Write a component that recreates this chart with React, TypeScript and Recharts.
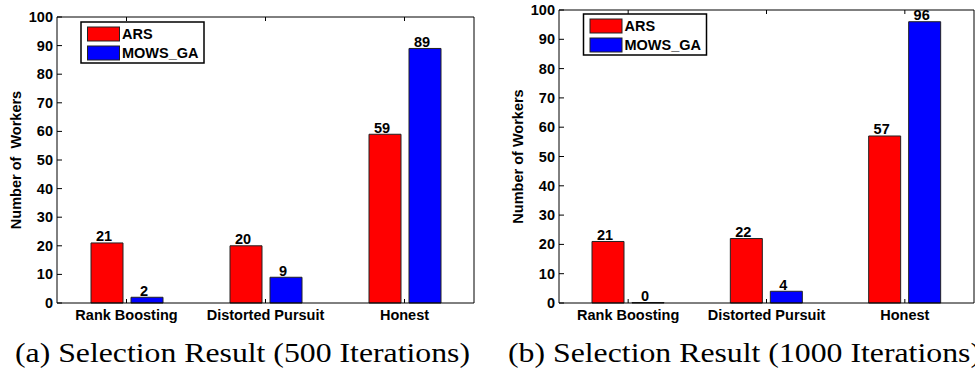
import React from 'react'
import { BarChart, Bar, XAxis, YAxis, LabelList } from 'recharts'

const categories = ['Rank Boosting', 'Distorted Pursuit', 'Honest']
const seriesNames = ['ARS', 'MOWS_GA']
const ars500 = [21, 20, 59]
const mows500 = [2, 9, 89]
const ars1000 = [21, 22, 57]
const mows1000 = [0, 4, 96]
const yTicks = [0, 10, 20, 30, 40, 50, 60, 70, 80, 90, 100]
const yLabels = ['Number of  Workers', 'Number of Workers']
const captions = ['(a) Selection Result (500 Iterations)', '(b) Selection Result (1000 Iterations)']

const FS = 14.5
const RED = '#ff0000'
const BLUE = '#0000ff'
const bold: React.CSSProperties = { fontFamily: 'Liberation Sans', fontWeight: 700, fontSize: FS }
const serif: React.CSSProperties = { fontFamily: 'Liberation Serif', fontWeight: 400, fontSize: 28 }

const data500 = categories.map((name, i) => ({ name, ars: ars500[i], mows: mows500[i] }))
const data1000 = categories.map((name, i) => ({ name, ars: ars1000[i], mows: mows1000[i] }))

// tick renderers: matlab style, ticks pointing into the plot box
const LeftTick = (p: any) => (
  <g>
    <text x={p.x} y={p.y} textAnchor="end" dominantBaseline="central" style={bold} fill="#000">
      {p.payload.value}
    </text>
    <line x1={p.x + 4} x2={p.x + 9} y1={p.y} y2={p.y} stroke="#000" />
  </g>
)
const RightTick = (p: any) => <line x1={p.x - 5} x2={p.x} y1={p.y} y2={p.y} stroke="#000" />
const BottomTick = (p: any) => (
  <g>
    <line x1={p.x} x2={p.x} y1={p.y - 4} y2={p.y} stroke="#000" />
    <text x={p.x} y={p.y + 17} textAnchor="middle" style={bold} fill="#000">
      {p.payload.value}
    </text>
  </g>
)
const TopTick = (p: any) => <line x1={p.x} x2={p.x} y1={p.y} y2={p.y + 4} stroke="#000" />

const valueLabel = (p: any) => (
  <text x={Number(p.x) + Number(p.width) / 2 - 3} y={Number(p.y) - 1.5} textAnchor="middle" style={bold} fill="#000">
    {p.value}
  </text>
)

// zero-height bars are skipped by recharts, keep them tiny so their label still shows
const keepZero = (v: any) => (Number(v) === 0 ? 0.5 : 0)

function Panel({ data, width, top, left, right }: { data: any[]; width: number; top: number; left: number; right: number }) {
  return (
    <BarChart width={width} height={330} data={data} margin={{ top: top - 1, right: right - 1, bottom: 7, left: left - 40 }} barGap={8}>
      <XAxis dataKey="name" interval={0} tickSize={0} tickMargin={0} axisLine={{ stroke: '#000' }} tickLine={false} tick={BottomTick} height={20} />
      <XAxis xAxisId="t" orientation="top" dataKey="name" interval={0} tickSize={0} tickMargin={0} axisLine={{ stroke: '#000' }} tickLine={false} tick={TopTick} height={1} />
      <YAxis domain={[0, 100]} ticks={yTicks} interval={0} tickSize={0} tickMargin={4} axisLine={{ stroke: '#000' }} tickLine={false} tick={LeftTick} width={40} />
      <YAxis yAxisId="r" orientation="right" domain={[0, 100]} ticks={yTicks} interval={0} tickSize={0} tickMargin={0} axisLine={{ stroke: '#000' }} tickLine={false} tick={RightTick} width={1} />
      <Bar dataKey="ars" name={seriesNames[0]} fill={RED} stroke="#222" strokeWidth={1} barSize={32} minPointSize={keepZero} isAnimationActive={false}>
        <LabelList dataKey="ars" content={valueLabel} />
      </Bar>
      <Bar dataKey="mows" name={seriesNames[1]} fill={BLUE} stroke="#222" strokeWidth={1} barSize={32} minPointSize={keepZero} isAnimationActive={false}>
        <LabelList dataKey="mows" content={valueLabel} />
      </Bar>
    </BarChart>
  )
}

function LegendBox({ x, y }: { x: number; y: number }) {
  return (
    <g>
      <rect x={x} y={y} width={123} height={41} fill="#fff" stroke="#000" strokeWidth={1.5} />
      {seriesNames.map((s, i) => (
        <g key={s}>
          <rect x={x + 6.5} y={y + 5 + i * 19} width={32} height={14} fill={i === 0 ? RED : BLUE} stroke="#222" />
          <text x={x + 41} y={y + 12 + i * 19} dominantBaseline="central" style={bold} fill="#000">
            {s}
          </text>
        </g>
      ))}
    </g>
  )
}

export default function App() {
  return (
    <div style={{ position: 'absolute', left: 0, top: 0, width: 975, height: 372, overflow: 'hidden', background: '#fff' }}>
      <div style={{ position: 'absolute', left: 0, top: 0 }}>
        <Panel data={data500} width={487} top={17} left={57} right={13} />
      </div>
      <div style={{ position: 'absolute', left: 487, top: 0 }}>
        <Panel data={data1000} width={488} top={10} left={72} right={1} />
      </div>
      <svg width={975} height={372} style={{ position: 'absolute', left: 0, top: 0, pointerEvents: 'none' }}>
        <LegendBox x={81} y={22} />
        <LegendBox x={583.5} y={14} />
        <text transform="translate(21,160) rotate(-90)" textAnchor="middle" style={{ ...bold, whiteSpace: 'pre' }} fill="#000">
          {yLabels[0]}
        </text>
        <text transform="translate(523,156.5) rotate(-90)" textAnchor="middle" style={{ ...bold, whiteSpace: 'pre' }} fill="#000">
          {yLabels[1]}
        </text>
        <text x={15} y={362} style={serif} textLength={455} lengthAdjust="spacingAndGlyphs" fill="#000">
          {captions[0]}
        </text>
        <text x={508} y={362} style={serif} textLength={473} lengthAdjust="spacingAndGlyphs" fill="#000">
          {captions[1]}
        </text>
      </svg>
    </div>
  )
}
